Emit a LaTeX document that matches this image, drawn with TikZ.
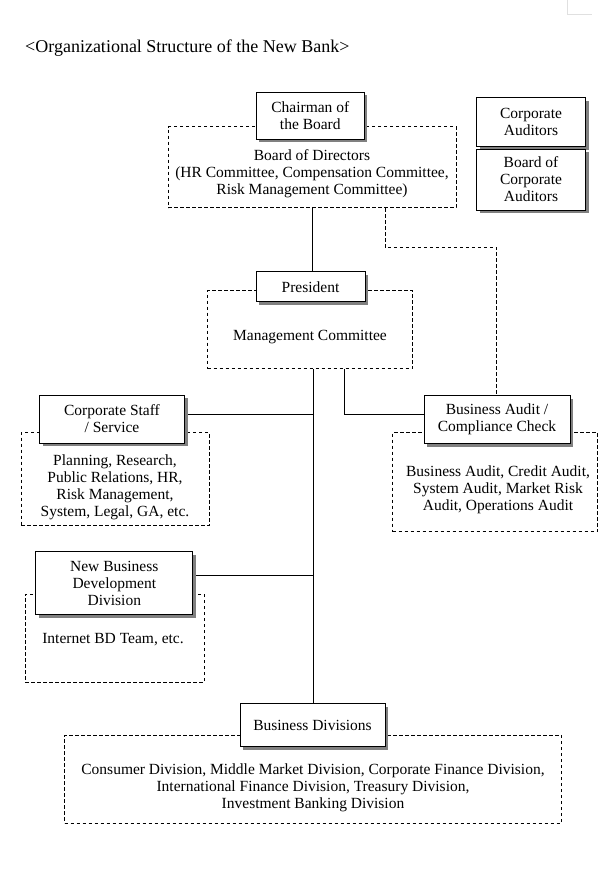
\documentclass[tikz,border=0pt]{standalone}
\usepackage{fontspec}
\setmainfont{Liberation Serif}
\usetikzlibrary{shadows}
\tikzset{
  unitbox/.style={draw=black, line width=0.8pt, fill=white, align=center, inner sep=0pt,
    drop shadow={shadow xshift=3pt, shadow yshift=-3pt, fill=black!50, opacity=1}},
  groupbox/.style={draw=black, line width=0.7pt, dash pattern=on 3.5pt off 2.5pt, inner sep=0pt},
  grouptext/.style={align=center, inner sep=0pt},
  link/.style={draw=black, line width=0.8pt},
  dlink/.style={draw=black, line width=0.8pt, dash pattern=on 3.5pt off 2.5pt},
  txt/.style={font=\fontsize{15.5}{17}\selectfont}
}
\begin{document}
\begin{tikzpicture}[x=1pt,y=-1pt]
\useasboundingbox (0,0) rectangle (612,891);
% faint page corner mark
\draw[black!12, line width=0.6pt] (567,0) -- (567,14) -- (592,14);

\node[font=\fontsize{18}{20}\selectfont, anchor=west, inner sep=0pt] (title) at (25,48) {<Organizational Structure of the New Bank>};

% dashed group boxes
\node[groupbox, minimum width=288pt, minimum height=81pt] (board) at (312,167.2) {};
\node[groupbox, minimum width=205pt, minimum height=78pt] (mgmt) at (310,329.5) {};
\node[groupbox, minimum width=188pt, minimum height=93pt] (staffg) at (115,479) {};
\node[groupbox, minimum width=205pt, minimum height=99pt] (auditg) at (495,482) {};
\node[groupbox, minimum width=179pt, minimum height=88pt] (nbdg) at (114.5,638) {};
\node[groupbox, minimum width=497pt, minimum height=88pt] (divg) at (313,779) {};

% group texts
\node[grouptext, txt] (boardt) at (312,174) {Board of Directors\\(HR Committee, Compensation Committee,\\Risk Management Committee)};
\node[grouptext, txt] (mgmtt) at (310,337) {Management Committee};
\node[grouptext, txt] (stafft) at (115,487) {Planning, Research,\\Public Relations, HR,\\Risk Management,\\System, Legal, GA, etc.};
\node[grouptext, txt] (auditt) at (498,489.5) {Business Audit, Credit Audit,\\System Audit, Market Risk\\Audit, Operations Audit};
\node[grouptext, txt] (nbdt) at (113,639.5) {Internet BD Team, etc.};
\node[grouptext, txt] (divt) at (313,788) {Consumer Division, Middle Market Division, Corporate Finance Division,\\International Finance Division, Treasury Division,\\Investment Banking Division};

% connectors
\coordinate (j1) at (385,247.3);
\coordinate (j2) at (496.7,247.3);
\coordinate (j3) at (344,414);
\coordinate (m1) at (313,414);
\coordinate (m2) at (313,575);
\draw[link] (board.south -| 312.7,0) -- (312.7,272);
\draw[dlink] (board.south -| j1) -- (j1) -- (j2) -- (496.7,396);
\draw[link] (mgmt.south -| m1) -- (313,704);
\draw[link] (mgmt.south -| j3) -- (j3) -- (425,414);
\draw[link] (184,414) -- (m1);
\draw[link] (192,575) -- (m2);

% solid unit boxes
\node[unitbox, txt, minimum width=108pt, minimum height=47pt] (chair) at (310.3,115.5) {Chairman of\\the Board};
\node[unitbox, txt, minimum width=109pt, minimum height=49pt] (auditors) at (531,122) {Corporate\\Auditors};
\node[unitbox, txt, minimum width=109pt, minimum height=61pt] (boardaud) at (531,179.5) {Board of\\Corporate\\Auditors};
\node[unitbox, txt, minimum width=109pt, minimum height=30pt] (pres) at (310.5,286.7) {President};
\node[unitbox, txt, minimum width=145pt, minimum height=48pt] (staff) at (112,419) {Corporate Staff\\/ Service};
\node[unitbox, txt, minimum width=146pt, minimum height=48pt] (audit) at (497,419.5) {Business Audit /\\Compliance Check};
\node[unitbox, txt, minimum width=157pt, minimum height=63pt] (nbd) at (114.3,583.3) {New Business\\Development\\Division};
\node[unitbox, txt, minimum width=145pt, minimum height=43pt] (div) at (312.5,725) {Business Divisions};
\end{tikzpicture}
\end{document}
